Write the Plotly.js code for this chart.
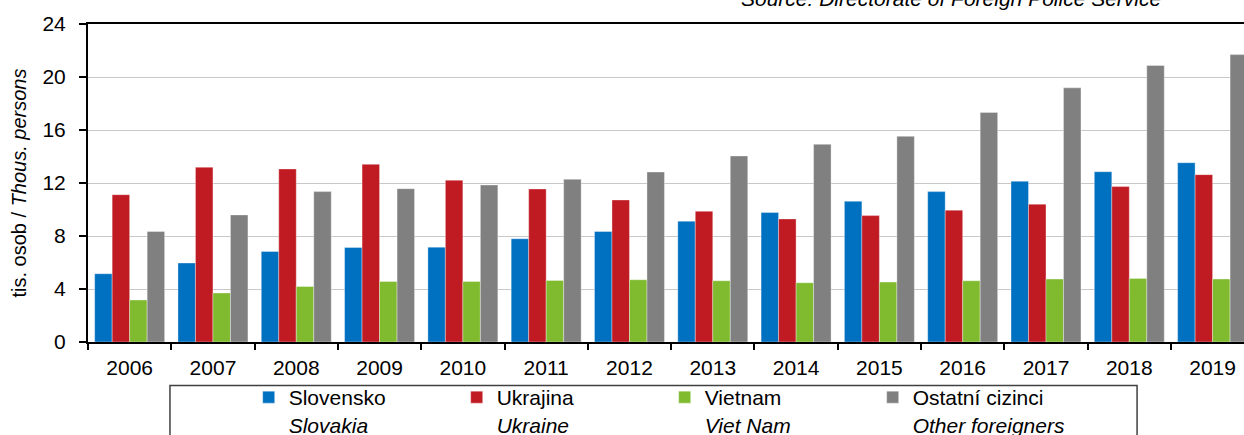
<!DOCTYPE html>
<html>
<head>
<meta charset="utf-8">
<script src="https://cdn.plot.ly/plotly-3.0.1.min.js"></script>
<style>
    body { margin: 0; background: #fff; }
    #foreignersPlotDiv { width: 1244px; height: 435px; }
</style>
</head>
<body>
<div id="foreignersPlotDiv"></div>
<script>
const foreignersPlotDivId = "foreignersPlotDiv"

// thousands of persons
const years = ["2006", "2007", "2008", "2009", "2010", "2011", "2012", "2013", "2014", "2015", "2016", "2017", "2018", "2019"]
const slovensko = [5.15, 5.96, 6.83, 7.13, 7.16, 7.79, 8.34, 9.12, 9.77, 10.62, 11.35, 12.13, 12.85, 13.53]
const ukrajina = [11.12, 13.19, 13.06, 13.41, 12.21, 11.55, 10.72, 9.87, 9.29, 9.54, 9.95, 10.40, 11.73, 12.63]
const vietnam = [3.17, 3.70, 4.19, 4.57, 4.57, 4.65, 4.70, 4.62, 4.47, 4.52, 4.62, 4.75, 4.80, 4.75]
const ostatni = [8.34, 9.59, 11.35, 11.57, 11.85, 12.28, 12.83, 14.04, 14.92, 15.52, 17.33, 19.18, 20.87, 21.69]

const seriesNames = [
    "Slovensko<br><i>Slovakia</i>",
    "Ukrajina<br><i>Ukraine</i>",
    "Vietnam<br><i>Viet Nam</i>",
    "Ostatní cizinci<br><i>Other foreigners</i>"
]
const seriesColors = ["#0070c0", "#c01b23", "#7fba2f", "#808080"]

function makeBars(name, values, color) {
    return {
        type: 'bar',
        x: years,
        y: values,
        name: name,
        marker: {
            color: color,
            line: { color: 'rgba(255,255,255,0.35)', width: 1 }
        }
    }
}

function makeChart(plotElementId) {
    let plotData = [
        makeBars(seriesNames[0], slovensko, seriesColors[0]),
        makeBars(seriesNames[1], ukrajina, seriesColors[1]),
        makeBars(seriesNames[2], vietnam, seriesColors[2]),
        makeBars(seriesNames[3], ostatni, seriesColors[3])
    ]

    let layout = {
        width: 1244,
        height: 435,
        margin: { l: 88, r: 0, t: 24, b: 93, autoexpand: false },
        paper_bgcolor: '#fff',
        plot_bgcolor: '#fff',
        font: { family: 'Liberation Sans, Arial, sans-serif', size: 21, color: '#000' },
        barmode: 'group',
        bargap: 0.16,
        bargroupgap: 0,
        xaxis: {
            type: 'category',
            range: [-0.5, 13.377],
            tickson: 'boundaries',
            ticks: 'outside',
            ticklen: 6,
            tickwidth: 2,
            tickcolor: '#000',
            ticklabelstandoff: 6,
            showline: true,
            linecolor: '#000',
            linewidth: 2,
            mirror: true,
            showgrid: false
        },
        yaxis: {
            range: [0, 24],
            dtick: 4,
            ticks: 'outside',
            ticklen: 7,
            tickwidth: 1.5,
            tickcolor: '#000',
            ticklabelstandoff: 9,
            showline: true,
            linecolor: '#000',
            linewidth: 2,
            gridcolor: '#c8c8c8',
            gridwidth: 1,
            zeroline: false,
            title: {
                text: 'tis. osob / <i>Thous. persons</i>',
                font: { size: 20 },
                standoff: 10
            }
        },
        legend: {
            orientation: 'h',
            x: 0.139,
            xanchor: 'left',
            y: -0.11,
            yanchor: 'top',
            valign: 'top',
            entrywidth: 163,
            font: { size: 21 },
            bgcolor: 'rgba(0,0,0,0)',
            traceorder: 'normal'
        },
        shapes: [{
            // legend frame
            type: 'rect',
            xref: 'paper', yref: 'paper',
            x0: 0.0709, x1: 0.9075, y0: -0.137, y1: -0.45,
            line: { color: '#404040', width: 1.5 },
            fillcolor: 'rgba(0,0,0,0)',
            layer: 'below'
        }],
        annotations: [{
            text: '<i>Source: Directorate of Foreign Police Service</i>',
            xref: 'paper', yref: 'paper',
            x: 0.93, y: 1.079,
            xanchor: 'right', yanchor: 'middle',
            showarrow: false,
            font: { size: 21 }
        }]
    }

    let config = {
        responsive: false,
        displayModeBar: false,
        staticPlot: true
    }

    Plotly.newPlot(plotElementId, plotData, layout, config)
}

makeChart(foreignersPlotDivId)
</script>
</body>
</html>
